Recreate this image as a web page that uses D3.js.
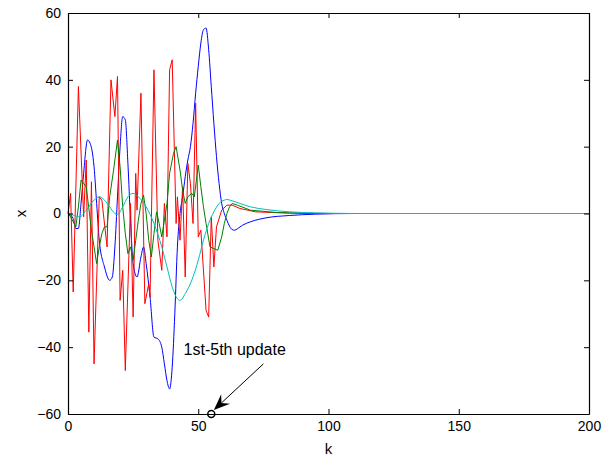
<!DOCTYPE html>
<html>
<head>
    <title>State trajectories</title>
    <script src="https://d3js.org/d3.v7.min.js"></script>
    <style>
        body { margin: 0; background: white; }
        text { font-family: "Liberation Sans", Arial, Helvetica, sans-serif; }
    </style>
</head>
<body>
    <div id="chart"></div>
    <script>
        // series values as [k, x]
        const blueData = [[0,0],[2,-1.5],[3,-4.5],[4,-4.5],[5,3],[6,12],[7.5,22],[8.5,21],[10,14],[11,3],[12,-8],[14,-16],[16,-20],[17,-19],[18,-10],[19,5],[20,20],[21,29],[22,28],[23,15],[24,-2],[25,-15],[26.5,-19],[28,-13],[29,-10],[30,-15],[31.5,-25],[33,-37],[34.5,-37.5],[36,-40],[37,-45],[38,-50],[39,-52.5],[40,-46],[41,-30],[42,-10],[43,0],[44,5],[45,11],[46,16],[47,20],[48,27],[49,36],[50,44],[51,51],[52,55],[53,55.5],[54,49],[55,38],[56,27],[57,17],[58,9],[59,3],[60,0],[61,-2],[62,-3.8],[63,-4.8],[64,-5],[65,-4.6],[67,-3.5],[70,-2.5],[76,-1.3],[85,-0.6],[95,-0.2],[110,0],[200,0]];
        const redData = [[0,0],[1,6],[2,-23.5],[4,38],[6,-1],[7,16],[8,-35.5],[9,9.5],[10,-45],[12,5],[13,4],[15,-10],[16.5,40],[18,29],[19,41],[20,-26],[21,-17],[22,-47],[24,3],[25,-31],[26,12],[26.5,1],[28,36],[29.5,-27],[31,-21],[31.5,-25],[33,43],[34.5,-8],[36,-17],[37,3],[38,-7],[39,43],[40,46],[41.5,-3],[42,5],[43,-8],[44,8],[45,-19],[46,15],[47,9],[48,-3],[49,33],[50,-7],[51,-5],[53,-29],[54,-31],[55,-1],[56,-16],[57,-4],[59,1],[61,2.5],[63,2.5],[66,1.5],[72,0.5],[85,0.1],[100,0],[200,0]];
        const greenData = [[0,0],[1,-1],[3,-4],[4,2],[5,10],[6,9],[7,8],[9,-5],[11,-15],[12,-10],[13,-6],[14,-4],[15,-4],[16,5],[17.5,13],[19,22],[20,14],[21,2],[22,-6],[23,-12],[24,-10],[25,-14],[26,-8],[27,-2],[28,3],[29,5.5],[30,0],[31,-8],[32,-13],[33,-6],[34,0.5],[35,-3],[36,-7],[37,-2],[38,3],[39,12],[40.5,18],[41.5,20],[43,13],[44,7],[45,3],[46,5],[47.5,6],[48.5,5],[50,14.5],[51,8],[52,2],[53,-3],[54.5,-10],[56,-10.5],[57.5,-11],[59,-7],[60,-3],[61,0],[62,2],[63,3],[65,2.5],[70,1],[80,0.3],[95,0],[200,0]];
        const cyanData = [[0,0],[2,-0.5],[4.5,-1],[7,1],[10,4],[12,5],[14,4],[16,2],[18,0],[19,-0.3],[21,2],[23,5],[25,6],[27,5],[30,2],[33,-3],[36,-10],[38,-16],[40,-22],[42,-25.5],[43,-26],[45,-24],[48,-19],[50,-14],[52,-8],[54,-3],[56,0.5],[58,3],[60,4],[61,4.2],[63,3.8],[66,3],[70,2],[76,1.2],[85,0.5],[95,0.2],[110,0],[200,0]];

        const xTicks = [0, 50, 100, 150, 200];
        const yTicks = [60, 40, 20, 0, -20, -40, -60];

        // annotation: marker point, arrow start/end and label position (data coords)
        const markerPoint = [55, -60];
        const arrowFrom = [75, -45];
        const arrowTo = [56, -58.8];
        const noteAt = [64, -42.3];
        const noteText = "1st-5th update";

        const width = 613, height = 460;
        const margin = { top: 13, right: 24, bottom: 46, left: 68 };

        const svg = d3.select("#chart")
            .append("svg")
            .attr("width", width)
            .attr("height", height);

        const x = d3.scaleLinear().domain([0, 200]).range([margin.left, width - margin.right]);
        const y = d3.scaleLinear().domain([-60, 60]).range([height - margin.bottom, margin.top]);

        const fmt = d => d < 0 ? "\u2212" + Math.abs(d) : String(d);

        // curves
        const smooth = d3.line().x(d => x(d[0])).y(d => y(d[1])).curve(d3.curveMonotoneX);
        const straight = d3.line().x(d => x(d[0])).y(d => y(d[1]));

        const series = [
            { data: blueData, color: "#0000ff", line: smooth },
            { data: redData, color: "#ff0000", line: straight },
            { data: greenData, color: "#008000", line: straight },
            { data: cyanData, color: "#00bfbf", line: smooth }
        ];

        svg.append("g")
            .selectAll("path")
            .data(series)
            .join("path")
            .attr("d", s => s.line(s.data))
            .attr("fill", "none")
            .attr("stroke", s => s.color)
            .attr("stroke-width", 1);

        // axes, ticks point inward (matlab style)
        svg.append("g")
            .attr("transform", `translate(0,${height - margin.bottom})`)
            .call(d3.axisBottom(x).tickValues(xTicks).tickSizeInner(-5).tickSizeOuter(0).tickPadding(7).tickFormat(fmt));
        svg.append("g")
            .attr("transform", `translate(${margin.left},0)`)
            .call(d3.axisLeft(y).tickValues(yTicks).tickSizeInner(-5).tickSizeOuter(0).tickPadding(7).tickFormat(fmt));
        svg.append("g")
            .attr("transform", `translate(0,${margin.top})`)
            .call(d3.axisTop(x).tickValues(xTicks).tickSizeInner(-5).tickSizeOuter(0).tickFormat(""));
        svg.append("g")
            .attr("transform", `translate(${width - margin.right},0)`)
            .call(d3.axisRight(y).tickValues(yTicks).tickSizeInner(-5).tickSizeOuter(0).tickFormat(""));

        svg.selectAll(".domain").attr("stroke", "#000").attr("stroke-width", 1.2);
        svg.selectAll(".tick line").attr("stroke", "#000");
        svg.selectAll(".tick text")
            .style("font-size", "14px")
            .attr("fill", "#000");

        // axis labels
        svg.append("text")
            .attr("x", (margin.left + width - margin.right) / 2)
            .attr("y", 454)
            .attr("text-anchor", "middle")
            .style("font-size", "15px")
            .text("k");
        svg.append("text")
            .attr("transform", `translate(26,${(margin.top + height - margin.bottom) / 2}) rotate(-90)`)
            .attr("text-anchor", "middle")
            .style("font-size", "15px")
            .text("x");

        // annotation
        svg.append("text")
            .attr("x", x(noteAt[0]))
            .attr("y", y(noteAt[1]))
            .attr("text-anchor", "middle")
            .style("font-size", "16px")
            .text(noteText);

        const x1 = x(arrowFrom[0]), y1 = y(arrowFrom[1]);
        const x2 = x(arrowTo[0]), y2 = y(arrowTo[1]);
        const ang = Math.atan2(y2 - y1, x2 - x1);
        const headLen = 16, headHalf = 6.5;
        const bx = x2 - headLen * Math.cos(ang), by = y2 - headLen * Math.sin(ang);
        const nx = -Math.sin(ang), ny = Math.cos(ang);
        const mx = x2 - headLen * 0.65 * Math.cos(ang), my = y2 - headLen * 0.65 * Math.sin(ang);

        svg.append("line")
            .attr("x1", x1).attr("y1", y1)
            .attr("x2", mx).attr("y2", my)
            .attr("stroke", "#000")
            .attr("stroke-width", 1);
        svg.append("path")
            .attr("d", `M${x2},${y2}L${bx + nx * headHalf},${by + ny * headHalf}L${mx},${my}L${bx - nx * headHalf},${by - ny * headHalf}Z`)
            .attr("fill", "#000");

        svg.append("circle")
            .attr("cx", x(markerPoint[0]))
            .attr("cy", y(markerPoint[1]))
            .attr("r", 3.5)
            .attr("fill", "none")
            .attr("stroke", "#000")
            .attr("stroke-width", 1.5);
    </script>
</body>
</html>
